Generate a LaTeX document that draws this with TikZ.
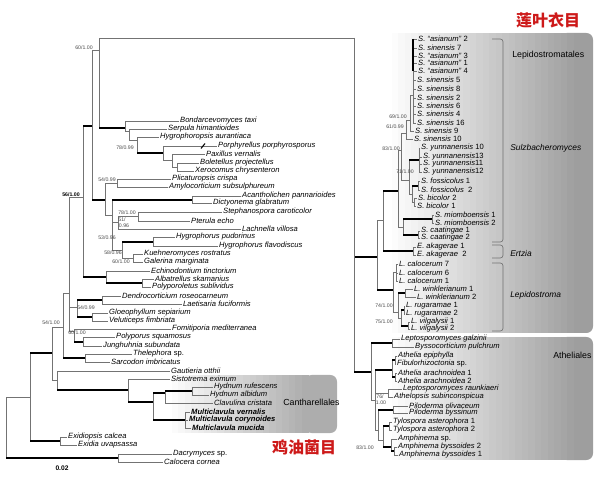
\documentclass[tikz,border=0pt]{standalone}
\usepackage{fontspec}
\setmainfont{Liberation Sans}
\newfontfamily\cjk{Noto Sans CJK SC}
\usepackage{xcolor}
\definecolor{zhred}{RGB}{205,25,25}
\newcommand\up[1]{\textup{#1}}
\newcommand\brx[2]{\draw[br] (#1) |- (#2);}
\newcommand\tkx[2]{\draw[br] (#1) -- (#1 |- #2); \draw[tk] (#1 |- #2) -- (#2);}

\begin{document}
\begin{tikzpicture}[x=0.75pt, y=-0.75pt]
    \tikzstyle{br} = [draw=black!55, line width=0.5pt]
    \tikzstyle{tk} = [draw=black, line width=1.5pt]
    \tikzstyle{leaf} = [anchor=west, inner sep=0.7pt, font=\fontsize{5.7}{6}\selectfont\itshape]
    \tikzstyle{bleaf} = [leaf, font=\fontsize{5.7}{6}\selectfont\itshape\bfseries]
    \tikzstyle{bs} = [inner sep=0pt, text=black!70, font=\fontsize{3.9}{4}\selectfont]
    \tikzstyle{clade} = [anchor=west, inner sep=0pt, font=\fontsize{6.6}{7}\selectfont]
    \tikzstyle{genus} = [clade, font=\fontsize{6.3}{7}\selectfont\itshape]
    \tikzstyle{zh} = [inner sep=0pt, text=zhred, font=\cjk\bfseries\fontsize{12}{13}\selectfont]
    \useasboundingbox (0,0) rectangle (600,477);

    % shaded clade boxes
    \fill[black!38, rounded corners=5pt] (560,33) rectangle (593,333);
    \fill[black!38, rounded corners=5pt] (560,337) rectangle (593,460);
    \fill[black!32, rounded corners=5pt] (305,375) rectangle (337,433);
    \foreach \i in {0,...,29} {
        \pgfmathsetmacro\gv{38*\i/29}
        \fill[black!\gv] ({385+6.5*\i},33) rectangle ({392.5+6.5*\i},333);
        \fill[black!\gv] ({385+6.5*\i},337) rectangle ({392.5+6.5*\i},460);
    }
    \foreach \i in {0,...,21} {
        \pgfmathsetmacro\gv{32*\i/21}
        \fill[black!\gv] ({165+6.5*\i},375) rectangle ({172.5+6.5*\i},433);
    }

    \node (lepo) [clade] at (512,55) {Lepidostromatales};
    \node (atho) [clade] at (553,355) {Atheliales};
    \node (cano) [clade] at (283,402) {Cantharellales};
    \node (sulz) [genus] at (510,148) {Sulzbacheromyces};
    \node (ertz) [genus] at (510,253) {Ertzia};
    \node (lepg) [genus] at (510,295) {Lepidostroma};
    \draw[br, rounded corners=2pt] (492,39) -- (503,39) -- (503,242) -- (492,242);
    \draw[br, rounded corners=2pt] (492,245) -- (503,245) -- (503,258) -- (492,258);
    \draw[br, rounded corners=2pt] (492,263) -- (503,263) -- (503,331) -- (492,331);

    \node (zhl) [zh] at (548,20) {莲叶衣目};
    \node (zhc) [zh] at (304,447) {鸡油菌目};
    \node (scl) [bs, text=black, font=\fontsize{5}{5}\selectfont\bfseries] at (62,468) {0.02};

    % left tree: leaves
    \node (bond) [leaf] at (179,121) {Bondarcevomyces taxi};
    \node (serp) [leaf] at (167,129) {Serpula himantioides};
    \node (hygr) [leaf] at (159,137) {Hygrophoropsis aurantiaca};
    \node (porp) [leaf] at (217,146) {Porphyrellus porphyrosporus};
    \node (paxi) [leaf] at (205,154) {Paxillus vernalis};
    \node (bole) [leaf] at (199,163) {Boletellus projectellus};
    \node (xero) [leaf] at (194,171) {Xerocomus chrysenteron};
    \node (plic) [leaf] at (171,179) {Plicaturopsis crispa};
    \node (amyl) [leaf] at (168,187) {Amylocorticium subsulphureum};
    \node (acan) [leaf] at (241,196) {Acantholichen pannarioides};
    \node (dict) [leaf] at (212,203) {Dictyonema glabratum};
    \node (steph) [leaf] at (222,212) {Stephanospora caroticolor};
    \node (pter) [leaf] at (190,221) {Pterula echo};
    \node (lach) [leaf] at (241,229) {Lachnella villosa};
    \node (hpud) [leaf] at (175,237) {Hygrophorus pudorinus};
    \node (hfla) [leaf] at (218,246) {Hygrophorus flavodiscus};
    \node (kueh) [leaf] at (143,254) {Kuehneromyces rostratus};
    \node (gale) [leaf] at (143,262) {Galerina marginata};
    \node (echi) [leaf] at (150,271) {Echinodontium tinctorium};
    \node (alba) [leaf] at (154,279) {Albatrellus skamanius};
    \node (polt) [leaf] at (151,287) {Polyporoletus sublividus};
    \node (dend) [leaf] at (121,296) {Dendrocorticium roseocarneum};
    \node (laet) [leaf] at (182,304) {Laetisaria fuciformis};
    \node (gloe) [leaf] at (108,313) {Gloeophyllum sepiarium};
    \node (velu) [leaf] at (108,321) {Veluticeps fimbriata};
    \node (fomi) [leaf] at (171,329) {Fomitiporia mediterranea};
    \node (poly) [leaf] at (115,337) {Polyporus squamosus};
    \node (jung) [leaf] at (102,346) {Junghuhnia subundata};
    \node (thel) [leaf] at (132,354) {Thelephora \up{sp.}};
    \node (sarc) [leaf] at (110,362) {Sarcodon imbricatus};
    \node (gaut) [leaf] at (170,371) {Gautieria otthii};
    \node (sist) [leaf] at (170,379) {Sistotrema eximum};
    \node (hruf) [leaf] at (213,387) {Hydnum rufescens};
    \node (halb) [leaf] at (209,395) {Hydnum albidum};
    \node (clav) [leaf] at (213,403) {Clavulina cristata};
    \node (mver) [bleaf] at (190,412) {Multiclavula vernalis};
    \node (mcor) [bleaf] at (188,420) {Multiclavula corynoides};
    \node (mmuc) [bleaf] at (191,428) {Multiclavula mucida};
    \node (exca) [leaf] at (67,437) {Exidiopsis calcea};
    \node (exuv) [leaf] at (77,445) {Exidia uvapsassa};
    \node (dacr) [leaf] at (172,454) {Dacrymyces \up{sp.}};
    \node (calo) [leaf] at (163,462) {Calocera cornea};

    % left tree: inner nodes
    \coordinate (r0) at (6,427);   \coordinate (n30) at (30,397);  \coordinate (exi) at (60,441);
    \coordinate (dac) at (118,458); \coordinate (n52) at (52,353);  \coordinate (n63) at (63,327);
    \coordinate (thn) at (85,358);  \coordinate (n69) at (69,293);  \coordinate (n77) at (77,307);
    \coordinate (den) at (102,300); \coordinate (glo) at (92,317);  \coordinate (n74) at (74,331);
    \coordinate (pol) at (83,342);  \coordinate (n57) at (57,380);  \coordinate (n128) at (128,390);
    \coordinate (n153) at (153,402); \coordinate (nhc) at (165,393); \coordinate (hyd) at (192,391);
    \coordinate (mul) at (185,420); \coordinate (n83) at (83,197);  \coordinate (ech) at (106,277);
    \coordinate (alb) at (142,283); \coordinate (n92) at (92,126);  \coordinate (n99) at (99,50);
    \coordinate (rt) at (354,38);   \coordinate (n125) at (125,128); \coordinate (n129) at (129,131);
    \coordinate (n137) at (137,140); \coordinate (n163) at (163,153); \coordinate (n172) at (172,160);
    \coordinate (n177) at (177,167); \coordinate (n105) at (105,200); \coordinate (pli) at (117,183);
    \coordinate (n112) at (112,215); \coordinate (aca) at (192,200); \coordinate (n118) at (118,222);
    \coordinate (ste) at (138,216); \coordinate (n122) at (122,250); \coordinate (hyg) at (153,242);
    \coordinate (kue) at (133,258);

    \brx{r0}{n30} \tkx{r0}{dac}
    \tkx{n30}{n52} \tkx{n30}{exi}
    \brx{exi}{exca.west} \brx{exi}{exuv.west}
    \brx{dac}{dacr.west} \brx{dac}{calo.west}
    \brx{n52}{n63} \brx{n52}{n57}
    \brx{n63}{n69} \tkx{n63}{thn}
    \brx{thn}{thel.west} \brx{thn}{sarc.west}
    \brx{n69}{n83} \brx{n69}{n77} \brx{n69}{n74}
    \tkx{n77}{den} \tkx{n77}{glo}
    \brx{den}{dend.west} \brx{den}{laet.west}
    \brx{glo}{gloe.west} \brx{glo}{velu.west}
    \brx{n74}{fomi.west} \tkx{n74}{pol}
    \brx{pol}{poly.west} \brx{pol}{jung.west}
    \brx{n57}{gaut.west} \tkx{n57}{n128}
    \brx{n128}{sist.west} \tkx{n128}{n153}
    \tkx{n153}{nhc} \tkx{n153}{mul}
    \tkx{nhc}{hyd} \brx{nhc}{clav.west}
    \brx{hyd}{hruf.west} \brx{hyd}{halb.west}
    \brx{mul}{mver.west} \brx{mul}{mcor.west} \brx{mul}{mmuc.west}
    \tkx{n83}{n92} \tkx{n83}{ech}
    \brx{ech}{echi.west} \tkx{ech}{alb}
    \brx{alb}{alba.west} \brx{alb}{polt.west}
    \brx{n92}{n99} \tkx{n92}{n105}
    \brx{n99}{rt} \tkx{n99}{n125}
    \brx{n125}{bond.west} \brx{n125}{n129}
    \brx{n129}{serp.west} \brx{n129}{n137}
    \brx{n137}{hygr.west} \tkx{n137}{n163}
    \brx{n163}{porp.west} \brx{n163}{n172}
    \brx{n172}{paxi.west} \brx{n172}{n177}
    \brx{n177}{bole.west} \brx{n177}{xero.west}
    \brx{n105}{pli} \brx{n105}{n112}
    \brx{pli}{plic.west} \brx{pli}{amyl.west}
    \tkx{n112}{aca} \brx{n112}{n118} \brx{n112}{n122}
    \brx{aca}{acan.west} \brx{aca}{dict.west}
    \brx{n118}{ste} \brx{n118}{lach.west}
    \brx{ste}{steph.west} \brx{ste}{pter.west}
    \tkx{n122}{hyg} \brx{n122}{kue}
    \brx{hyg}{hpud.west} \brx{hyg}{hfla.west}
    \brx{kue}{kueh.west} \brx{kue}{gale.west}
    \draw[black, line width=0.8pt] (201,148.5) -- (205,143.5);

    % left tree: support values
    \node (b1) [bs] at (84,48) {60/1.00};
    \node (b2) [bs] at (125,148) {78/0.99};
    \node (b3) [bs] at (107,180) {54/0.99};
    \node (b4) [bs, text=black, font=\fontsize{3.9}{4}\selectfont\bfseries] at (71,195) {56/1.00};
    \node (b5) [bs] at (127,213) {78/1.00};
    \node (b6) [bs] at (122,220) {51/};
    \node (b7) [bs] at (124,226) {0.96};
    \node (b8) [bs] at (107,238) {53/0.96};
    \node (b9) [bs] at (113,253) {58/0.96};
    \node (b10) [bs] at (121,262) {60/1.00};
    \node (b11) [bs] at (86,308) {54/0.99};
    \node (b12) [bs] at (51,323) {54/1.00};
    \node (b13) [bs] at (77,333) {60/1.00};

    % right tree: leaves
    \node (sa2) [leaf] at (417,39) {S. “asianum” \up{2}};
    \node (sn7) [leaf] at (417,48) {S. sinensis \up{7}};
    \node (sa3) [leaf] at (417,56) {S. “asianum” \up{3}};
    \node (sa1) [leaf] at (417,63) {S. “asianum” \up{1}};
    \node (sa4) [leaf] at (417,71) {S. “asianum” \up{4}};
    \node (sn5) [leaf] at (416,80) {S. sinensis \up{5}};
    \node (sn8) [leaf] at (416,89) {S. sinensis \up{8}};
    \node (sn2) [leaf] at (416,98) {S. sinensis \up{2}};
    \node (sn6) [leaf] at (416,106) {S. sinensis \up{6}};
    \node (sn4) [leaf] at (416,114) {S. sinensis \up{4}};
    \node (sn16) [leaf] at (416,123) {S. sinensis \up{16}};
    \node (sn9) [leaf] at (414,131) {S. sinensis \up{9}};
    \node (sn10) [leaf] at (413,139) {S. sinensis \up{10}};
    \node (yu10) [leaf] at (420,148) {S. yunnanensis \up{10}};
    \node (yu13) [leaf] at (422,157) {S. yunnanensis\up{13}};
    \node (yu11) [leaf] at (422,164) {S. yunnanensis\up{11}};
    \node (yu12) [leaf] at (422,172) {S. yunnanensis\up{12}};
    \node (fo1) [leaf] at (420,181) {S. fossicolus \up{1}};
    \node (fo2) [leaf] at (420,190) {S. fossicolus \ \up{2}};
    \node (bi2) [leaf] at (417,198) {S. bicolor \up{2}};
    \node (bi1) [leaf] at (416,206) {S. bicolor \up{1}};
    \node (mi1) [leaf] at (434,215) {S. miomboensis \up{1}};
    \node (mi2) [leaf] at (434,223) {S. miomboensis \up{2}};
    \node (ca1) [leaf] at (420,231) {S. caatingae \up{1}};
    \node (ca2) [leaf] at (420,238) {S. caatingae \up{2}};
    \node (ea1) [leaf] at (416,247) {E. akagerae \up{1}};
    \node (ea2) [leaf] at (416,255) {E. akagerae \ \up{2}};
    \node (lc7) [leaf] at (398,264) {L. calocerum \up{7}};
    \node (lc6) [leaf] at (398,273) {L. calocerum \up{6}};
    \node (lc1) [leaf] at (398,281) {L. calocerum \up{1}};
    \node (lw1) [leaf] at (413,289) {L. winklerianum \up{1}};
    \node (lw2) [leaf] at (416,297) {L. winklerianum \up{2}};
    \node (lr1) [leaf] at (405,306) {L. rugaramae \up{1}};
    \node (lr2) [leaf] at (405,314) {L. rugaramae \up{2}};
    \node (lv1) [leaf] at (410,322) {L. vilgalysii \up{1}};
    \node (lv2) [leaf] at (410,329) {L. vilgalysii \up{2}};
    \node (lgal) [leaf] at (400,339) {Leptosporomyces galzinii};
    \node (byss) [leaf] at (414,347) {Byssocorticium pulchrum};
    \node (aepi) [leaf] at (397,356) {Athelia epiphylla};
    \node (fibu) [leaf] at (396,364) {Fibulorhizoctonia \up{sp.}};
    \node (aar1) [leaf] at (397,373) {Athelia arachnoidea \up{1}};
    \node (aar2) [leaf] at (397,381) {Athelia arachnoidea \up{2}};
    \node (lrau) [leaf] at (402,389) {Leptosporomyces raunkiaeri};
    \node (athl) [leaf] at (393,397) {Athelopsis subinconspicua};
    \node (pilo) [leaf] at (408,406) {Piloderma olivaceum};
    \node (pbys) [leaf] at (408,413) {Piloderma byssinum};
    \node (tya1) [leaf] at (392,422) {Tylospora asterophora \up{1}};
    \node (tya2) [leaf] at (392,430) {Tylospora asterophora \up{2}};
    \node (amsp) [leaf] at (397,439) {Amphinema \up{sp.}};
    \node (amb2) [leaf] at (397,447) {Amphinema byssoides \up{2}};
    \node (amb1) [leaf] at (398,455) {Amphinema byssoides \up{1}};

    % right tree: inner nodes
    \coordinate (lep0) at (377,257); \coordinate (ath0) at (371,372); \coordinate (l1) at (383,220);
    \coordinate (lpi) at (393,290);  \coordinate (s0) at (398,191);   \coordinate (ert) at (413,251);
    \coordinate (smc) at (403,227);  \coordinate (mio) at (432,219);  \coordinate (caa) at (418,235);
    \coordinate (sm) at (401,150);   \coordinate (n61) at (406,133);  \coordinate (n69r) at (410,120);
    \coordinate (sA) at (413,95);    \coordinate (n71) at (409,180);  \coordinate (yun) at (419,160);
    \coordinate (fb) at (412,194);   \coordinate (fos) at (418,186);  \coordinate (bic) at (414,202);
    \coordinate (lc) at (396,272);   \coordinate (l74) at (398,312);  \coordinate (wink) at (405,293);
    \coordinate (l75) at (401,318);  \coordinate (rug) at (404,310);  \coordinate (vil) at (408,326);
    \coordinate (lg) at (392,343);   \coordinate (a1) at (375,400);   \coordinate (ath) at (392,370);
    \coordinate (ep) at (395,360);   \coordinate (ar) at (395,377);   \coordinate (lr) at (388,393);
    \coordinate (a2) at (378,430);   \coordinate (pil) at (393,410);  \coordinate (a3) at (383,440);
    \coordinate (tyl) at (389,426);  \coordinate (amp) at (391,447);  \coordinate (amb) at (394,451);

    \tkx{rt}{lep0} \tkx{rt}{ath0}
    \brx{lep0}{l1} \tkx{lep0}{lpi}
    \tkx{l1}{s0} \tkx{l1}{ert}
    \brx{ert}{ea1.west} \brx{ert}{ea2.west}
    \brx{s0}{sm} \brx{s0}{smc}
    \tkx{smc}{mio} \tkx{smc}{caa}
    \brx{mio}{mi1.west} \brx{mio}{mi2.west}
    \brx{caa}{ca1.west} \brx{caa}{ca2.west}
    \brx{sm}{n61} \brx{sm}{n71}
    \brx{n61}{n69r} \brx{n61}{sn10.west}
    \brx{n69r}{sA} \brx{n69r}{sn9.west}
    \foreach \s in {sa2,sn7,sa3,sa1,sa4,sn5,sn8,sn2,sn6,sn4,sn16} {\brx{sA}{\s.west}}
    \draw[tk, line width=1pt] (413,39) -- (413,71);
    \tkx{n71}{yun} \brx{n71}{fb}
    \foreach \s in {yu10,yu13,yu11,yu12} {\brx{yun}{\s.west}}
    \tkx{fb}{fos} \brx{fb}{bic}
    \brx{fos}{fo1.west} \brx{fos}{fo2.west}
    \brx{bic}{bi2.west} \brx{bic}{bi1.west}
    \brx{lpi}{lc} \brx{lpi}{l74}
    \foreach \s in {lc7,lc6,lc1} {\brx{lc}{\s.west}}
    \tkx{l74}{wink} \brx{l74}{l75}
    \brx{wink}{lw1.west} \brx{wink}{lw2.west}
    \tkx{l75}{rug} \tkx{l75}{vil}
    \brx{rug}{lr1.west} \brx{rug}{lr2.west}
    \brx{vil}{lv1.west} \brx{vil}{lv2.west}
    \tkx{ath0}{lg} \brx{ath0}{a1}
    \brx{lg}{lgal.west} \brx{lg}{byss.west}
    \tkx{a1}{ath} \brx{a1}{lr} \brx{a1}{a2}
    \tkx{ath}{ep} \tkx{ath}{ar}
    \brx{ep}{aepi.west} \brx{ep}{fibu.west}
    \brx{ar}{aar1.west} \brx{ar}{aar2.west}
    \brx{lr}{lrau.west} \brx{lr}{athl.west}
    \tkx{a2}{pil} \brx{a2}{a3}
    \brx{pil}{pilo.west} \brx{pil}{pbys.west}
    \tkx{a3}{tyl} \tkx{a3}{amp}
    \brx{tyl}{tya1.west} \brx{tyl}{tya2.west}
    \brx{amp}{amsp.west} \tkx{amp}{amb}
    \brx{amb}{amb2.west} \brx{amb}{amb1.west}

    % right tree: support values
    \node (c1) [bs] at (398,117) {69/1.00};
    \node (c2) [bs] at (395,127) {61/0.99};
    \node (c3) [bs] at (391,149) {83/1.00};
    \node (c4) [bs] at (405,172) {71/1.00};
    \node (c5) [bs] at (384,306) {74/1.00};
    \node (c6) [bs] at (384,322) {75/1.00};
    \node (c7) [bs] at (380,397) {76/};
    \node (c8) [bs] at (381,403) {1.00};
    \node (c9) [bs] at (365,448) {83/1.00};
\end{tikzpicture}
\end{document}
